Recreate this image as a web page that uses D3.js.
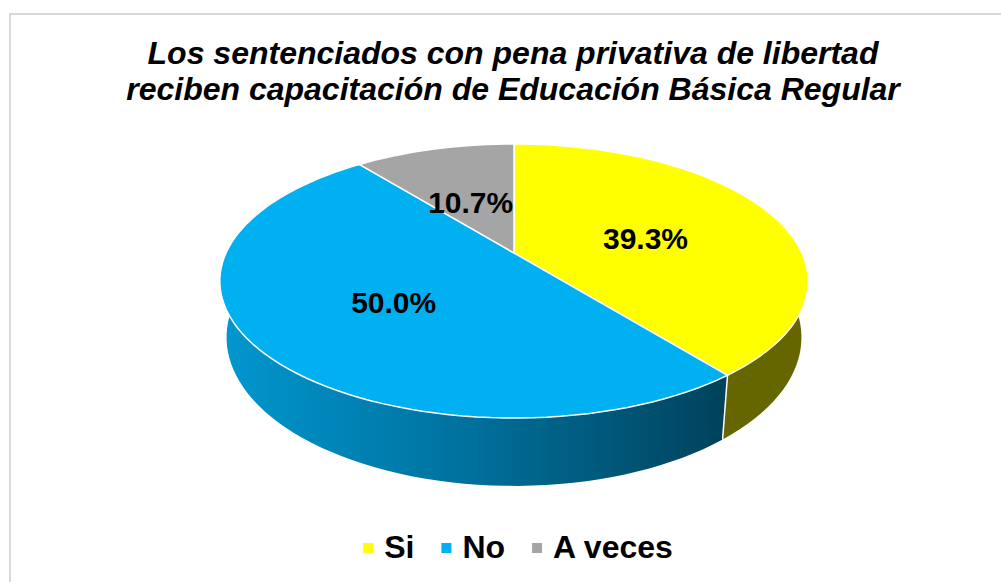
<!DOCTYPE html>
<html>
<head>
<meta charset="utf-8">
<script src="https://cdn.jsdelivr.net/npm/d3@7"></script>
<style>
html,body{margin:0;padding:0;background:#fff;}
svg{display:block;}
text{font-family:"Liberation Sans", Arial, sans-serif;}
</style>
</head>
<body>
<svg id="chart" width="1001" height="582"></svg>
<script>
// ---- data ----
const categories = ["Si", "No", "A veces"];
const values = [39.3, 50.0, 10.7];
const valueLabels = ["39.3%", "50.0%", "10.7%"];
const titleLines = ["Los sentenciados con pena privativa de libertad",
                    "reciben capacitación de Educación Básica Regular"];
const topColors = ["#FFFF00", "#00B0F0", "#A5A5A5"];
const sideColors = ["#666600", "url(#blueSide)", "#5a5a5a"];

// ---- geometry (3D perspective pie) ----
const cx = 514, cy = 253, A = 288, B = 131.3, k = 0.2044, D = 54, conv = 0.977;

function proj(theta, r, depth) {
  const u = r * Math.sin(theta), v = -r * Math.cos(theta);
  const s = 1 / (1 - k * v);
  const xs = depth ? conv : 1;
  return [cx + A * u * s * xs, cy + B * v * s + (depth ? D * s : 0)];
}

const svg = d3.select("#chart");
const defs = svg.append("defs");
const g1 = defs.append("linearGradient").attr("id", "blueSide")
  .attr("gradientUnits", "userSpaceOnUse").attr("x1", 222).attr("x2", 722).attr("y1", 0).attr("y2", 0);
g1.append("stop").attr("offset", 0).attr("stop-color", "#0097cf");
g1.append("stop").attr("offset", 0.5).attr("stop-color", "#00709c");
g1.append("stop").attr("offset", 1).attr("stop-color", "#00435d");

// frame
svg.append("rect").attr("x", 10).attr("y", 14).attr("width", 1010).attr("height", 600)
  .attr("fill", "#fff").attr("stroke", "#d9d9d9").attr("stroke-width", 2);

const arcs = d3.pie().sort(null).value(d => d)(values);
const line = d3.line();
const N = 160;

function sampleArc(a0, a1, r, depth) {
  const n = Math.max(2, Math.ceil(N * (a1 - a0) / (2 * Math.PI)));
  return d3.range(n + 1).map(i => proj(a0 + (a1 - a0) * i / n, r, depth));
}

// sides
const sides = svg.append("g");
const order = [2, 0, 1];
order.forEach(i => {
  const a = arcs[i];
  const top = sampleArc(a.startAngle, a.endAngle, 1, false);
  const bot = sampleArc(a.startAngle, a.endAngle, 1, true).reverse();
  sides.append("path").attr("d", line(top.concat(bot)) + "Z")
    .attr("fill", sideColors[i]);
});
// white edge between visible side faces
arcs.forEach((a, i) => {
  const th = a.endAngle;
  if (Math.cos(th) < 0) {
    const p0 = proj(th, 1, false), p1 = proj(th, 1, true);
    sides.append("line").attr("x1", p0[0]).attr("y1", p0[1]).attr("x2", p1[0]).attr("y2", p1[1])
      .attr("stroke", "#fff").attr("stroke-width", 1.5);
  }
});

// top faces
const tops = svg.append("g");
arcs.forEach((a, i) => {
  const pts = [proj(0, 0, false)].concat(sampleArc(a.startAngle, a.endAngle, 1, false));
  tops.append("path").attr("d", line(pts) + "Z")
    .attr("fill", topColors[i]).attr("stroke", "#fff").attr("stroke-width", 1.5)
    .attr("stroke-linejoin", "round");
});

// data labels
arcs.forEach((a, i) => {
  const p = proj((a.startAngle + a.endAngle) / 2, 0.5, false);
  svg.append("text").attr("x", p[0]).attr("y", p[1] + 6)
    .attr("text-anchor", "middle").attr("dominant-baseline", "central")
    .attr("font-size", 30).attr("font-weight", "bold").attr("fill", "#000")
    .text(valueLabels[i]);
});

// title
svg.append("g").selectAll("text").data(titleLines).join("text")
  .attr("x", 513).attr("y", (d, i) => 64 + i * 36)
  .attr("text-anchor", "middle").attr("font-size", 32)
  .attr("font-weight", "bold").attr("font-style", "italic").attr("fill", "#000")
  .text(d => d);

// legend
const leg = svg.append("g");
let x = 0;
const items = categories.map((c, i) => {
  const gI = leg.append("g");
  gI.append("rect").attr("x", x).attr("y", -15).attr("width", 10).attr("height", 10).attr("fill", topColors[i]);
  const t = gI.append("text").attr("x", x + 21).attr("y", 0).attr("font-size", 32)
    .attr("font-weight", "bold").attr("fill", "#000").text(c);
  const w = t.node().getComputedTextLength();
  x += 21 + w + 27;
  return gI;
});
const totalW = x - 27;
leg.attr("transform", `translate(${518 - totalW / 2},558)`);
</script>
</body>
</html>
